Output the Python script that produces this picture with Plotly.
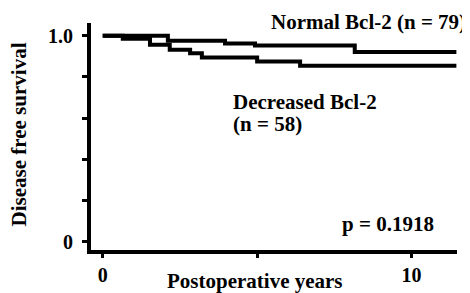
import plotly.graph_objects as go

# Kaplan-Meier step data (years, survival fraction)
normal_t = [0, 2.11, 3.96, 4.93, 8.16, 11.45]
normal_s = [1.0, 0.976, 0.963, 0.953, 0.921, 0.921]
decreased_t = [0, 0.65, 1.53, 2.17, 2.83, 3.21, 5.0, 6.39, 11.45]
decreased_s = [1.0, 0.985, 0.956, 0.932, 0.915, 0.895, 0.875, 0.854, 0.854]

x_ticks = [0, 5, 10]
x_ticklabels = ["0", "", "10"]
y_ticks = [0, 0.2, 0.4, 0.6, 0.8, 1.0]
y_ticklabels = ["0", "", "", "", "", "1.0"]

FONT = "Liberation Serif"

fig = go.Figure()
fig.add_trace(go.Scatter(x=normal_t, y=normal_s, mode="lines",
                         line=dict(color="black", width=4, shape="hv"),
                         showlegend=False, cliponaxis=False))
fig.add_trace(go.Scatter(x=decreased_t, y=decreased_s, mode="lines",
                         line=dict(color="black", width=4, shape="hv"),
                         showlegend=False, cliponaxis=False))

def f(size):
    return dict(family=FONT, size=size, color="black", weight="bold")

fig.add_annotation(x=0.758, y=1.006, xref="paper", yref="paper", text="Normal Bcl-2 (n = 79)",
                   showarrow=False, font=f(21), xanchor="center", yanchor="middle")
fig.add_annotation(x=4.16, y=0.68, xref="x", yref="y", text="Decreased Bcl-2",
                   showarrow=False, font=f(21), xanchor="left", yanchor="middle")
fig.add_annotation(x=4.16, y=0.571, xref="x", yref="y", text="(n = 58)",
                   showarrow=False, font=f(21), xanchor="left", yanchor="middle")
fig.add_annotation(x=9.25, y=0.088, xref="x", yref="y", text="p = 0.1918",
                   showarrow=False, font=f(21), xanchor="center", yanchor="middle")
# axis titles
fig.add_annotation(x=-0.198, y=0.507, xref="paper", yref="paper", text="Disease free survival",
                   showarrow=False, font=f(21), textangle=-90, xanchor="center", yanchor="middle")
fig.add_annotation(x=0.447, y=-0.137, xref="paper", yref="paper", text="Postoperative years",
                   showarrow=False, font=f(21), xanchor="center", yanchor="middle")

# page body adds an 8px offset, so the figure is 8px smaller on each axis
fig.update_layout(
    width=462, height=285,
    margin=dict(l=83, r=13, t=15, b=43),
    paper_bgcolor="white", plot_bgcolor="white",
    font=f(20),
    xaxis=dict(range=[-0.379, 11.47], tickvals=x_ticks, ticktext=x_ticklabels,
               showline=True, linewidth=4, linecolor="black",
               ticks="outside", ticklen=4, tickwidth=3, tickcolor="black",
               showgrid=False, zeroline=False, automargin=False,
               tickfont=f(20)),
    yaxis=dict(range=[-0.040, 1.062], tickvals=y_ticks, ticktext=y_ticklabels,
               showline=True, linewidth=4, linecolor="black",
               ticks="outside", ticklen=5, tickwidth=3, tickcolor="black",
               showgrid=False, zeroline=False, automargin=False,
               ticklabelstandoff=5, tickfont=f(20)),
)

fig.write_html("out.html")
